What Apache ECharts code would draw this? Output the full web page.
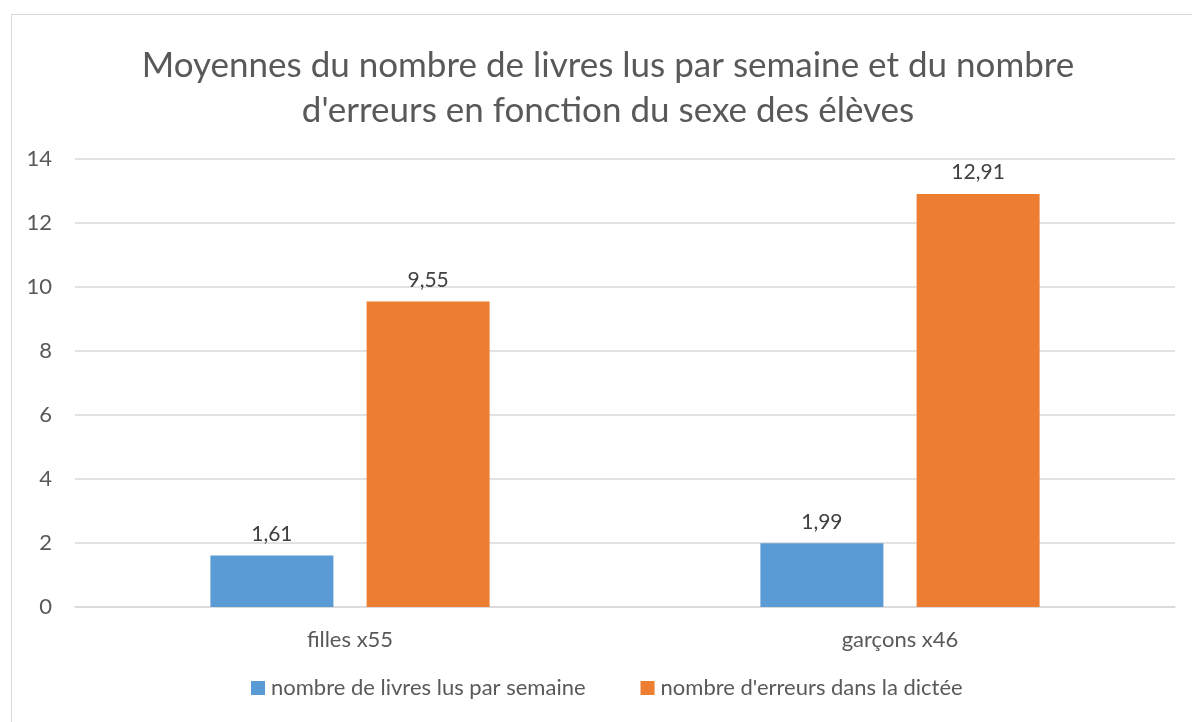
<!DOCTYPE html>
<html><head><meta charset="utf-8">
<script src="https://cdn.jsdelivr.net/npm/echarts@6/dist/echarts.min.js"></script>
<style>
html,body{margin:0;padding:0;background:#fff;overflow:hidden}
#frame{position:absolute;left:11px;top:14px;width:1200px;height:730px;border:1px solid #d9d9d9;box-sizing:border-box}
#c{position:absolute;left:0;top:0;width:1192px;height:722px}
</style></head>
<body>
<div id="frame"></div>
<div id="c"></div>
<script>
const categories = ['filles x55', 'garçons x46'];
const livres = [1.61, 1.99];
const erreurs = [9.55, 12.91];
const seriesNames = ['nombre de livres lus par semaine', "nombre d'erreurs dans la dictée"];
const titleText = "Moyennes du nombre de livres lus par semaine et du nombre\nd'erreurs en fonction du sexe des élèves";

const font = 'Lato, "Open Sans", sans-serif';
const fmt = p => p.value.toFixed(2).replace('.', ',');
const chart = echarts.init(document.getElementById('c'));
chart.setOption({
  animation: false,
  title: {
    text: titleText, left: 603, top: 38, textAlign: 'center',
    textStyle: {fontFamily: font, fontSize: 35, fontWeight: 'normal', color: '#595959', lineHeight: 45}
  },
  grid: {left: 75, right: 17, top: 159, bottom: 115, containLabel: false},
  legend: {
    bottom: 18, left: 246, itemWidth: 14, itemHeight: 14, itemGap: 55,
    icon: 'rect',
    textStyle: {fontFamily: font, fontSize: 22, color: '#595959', padding: [0, 0, 0, 1]},
    data: seriesNames
  },
  xAxis: {
    type: 'category', data: categories,
    axisLine: {lineStyle: {color: '#d9d9d9', width: 1.5}},
    axisTick: {show: false},
    axisLabel: {fontFamily: font, fontSize: 22, color: '#595959', margin: 22}
  },
  yAxis: {
    type: 'value', min: 0, max: 14, interval: 2,
    axisLine: {show: false}, axisTick: {show: false},
    splitLine: {lineStyle: {color: '#d9d9d9', width: 1.5}},
    axisLabel: {fontFamily: font, fontSize: 22, color: '#595959', margin: 23}
  },
  series: [
    {name: seriesNames[0], type: 'bar', data: livres, barWidth: 123, barGap: '27%',
     itemStyle: {color: '#5B9BD5'},
     label: {show: true, position: 'top', distance: 11, formatter: fmt, fontFamily: font, fontSize: 21, color: '#404040'}},
    {name: seriesNames[1], type: 'bar', data: erreurs, barWidth: 123,
     itemStyle: {color: '#ED7D31'},
     label: {show: true, position: 'top', distance: 11, formatter: fmt, fontFamily: font, fontSize: 21, color: '#404040'}}
  ]
});
</script>
</body></html>
